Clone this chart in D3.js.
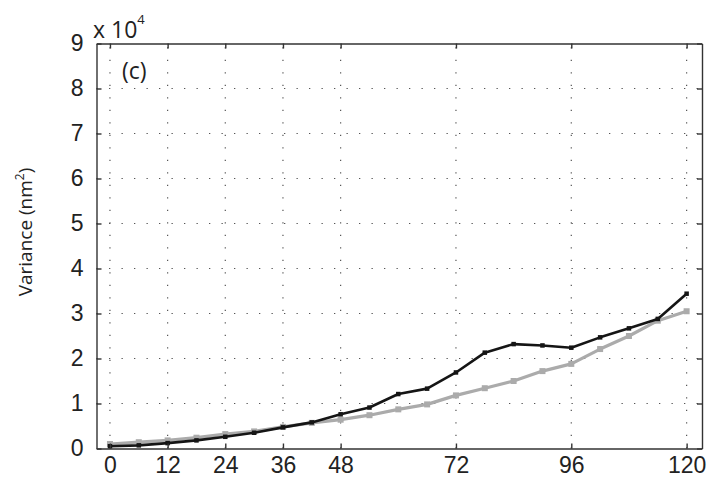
<!DOCTYPE html>
<html>
<head>
<meta charset="utf-8">
<script src="https://cdn.jsdelivr.net/npm/d3@7"></script>
<style>
    body { margin: 0; background: #fff; }
    svg { font-family: "Open Sans", "Noto Sans", sans-serif; }
    .grid line { stroke: #555; stroke-width: 1.2; stroke-dasharray: 1.3,11.2; }
    .axis path, .axis line { stroke: #333; stroke-width: 1.4; fill: none; }
    .axis text { fill: #222; font-size: 23px; }
</style>
</head>
<body>
<script>
    // forecast hours
    var hours = [0, 6, 12, 18, 24, 30, 36, 42, 48, 54, 60, 66, 72, 78, 84, 90, 96, 102, 108, 114, 120];
    // variance, units of 10^4 nm^2
    var blackSeries = [0.05, 0.07, 0.12, 0.18, 0.26, 0.35, 0.47, 0.58, 0.76, 0.91, 1.21, 1.33, 1.69, 2.13, 2.32, 2.29, 2.24, 2.47, 2.67, 2.88, 3.44];
    var graySeries  = [0.10, 0.14, 0.18, 0.24, 0.32, 0.38, 0.48, 0.57, 0.64, 0.74, 0.87, 0.98, 1.18, 1.34, 1.50, 1.72, 1.88, 2.21, 2.50, 2.84, 3.05];
    var xTicks = [0, 12, 24, 36, 48, 72, 96, 120];
    var yTicks = [0, 1, 2, 3, 4, 5, 6, 7, 8, 9];

    var W = 712, H = 482;
    var plotL = 96.5, plotR = 702, plotT = 43.5, plotB = 448.5;

    var svg = d3.select("body").append("svg")
        .attr("width", W)
        .attr("height", H);

    var x = d3.scaleLinear().domain([-2.8, 123.2]).range([plotL, plotR]);
    var y = d3.scaleLinear().domain([0, 9]).range([plotB, plotT]);

    // dotted grid
    var grid = svg.append("g").attr("class", "grid");
    grid.selectAll(".v").data(xTicks).enter().append("line")
        .attr("x1", function(d) { return x(d); })
        .attr("x2", function(d) { return x(d); })
        .attr("y1", plotB).attr("y2", plotT);
    grid.selectAll(".h").data(yTicks.slice(1, -1)).enter().append("line")
        .attr("x1", plotL).attr("x2", plotR)
        .attr("y1", function(d) { return y(d); })
        .attr("y2", function(d) { return y(d); });

    // lines
    var line = d3.line()
        .x(function(d) { return x(d[0]); })
        .y(function(d) { return y(d[1]); });

    function drawSeries(vals, color, lw, ms) {
        var pts = hours.map(function(h, i) { return [h, vals[i]]; });
        svg.append("path")
            .attr("d", line(pts))
            .attr("fill", "none")
            .attr("stroke", color)
            .attr("stroke-width", lw)
            .attr("stroke-linejoin", "round");
        svg.append("g").selectAll("rect").data(pts).enter().append("rect")
            .attr("x", function(d) { return x(d[0]) - ms / 2; })
            .attr("y", function(d) { return y(d[1]) - ms / 2; })
            .attr("width", ms).attr("height", ms)
            .attr("fill", color);
    }
    drawSeries(graySeries, "#ababab", 3.2, 6);
    drawSeries(blackSeries, "#151515", 2.6, 4.5);

    // axes, MATLAB style inward ticks all round
    var fmt = d3.format("d");
    svg.append("g").attr("class", "axis")
        .attr("transform", "translate(0," + plotB + ")")
        .call(d3.axisBottom(x).tickValues(xTicks).tickFormat(fmt).tickSizeInner(-5).tickSizeOuter(0).tickPadding(8));
    svg.append("g").attr("class", "axis")
        .attr("transform", "translate(0," + plotT + ")")
        .call(d3.axisTop(x).tickValues(xTicks).tickFormat("").tickSizeInner(-5).tickSizeOuter(0));
    svg.append("g").attr("class", "axis")
        .attr("transform", "translate(" + plotL + ",0)")
        .call(d3.axisLeft(y).tickValues(yTicks).tickFormat(fmt).tickSizeInner(-5).tickSizeOuter(0).tickPadding(13));
    svg.append("g").attr("class", "axis")
        .attr("transform", "translate(" + plotR + ",0)")
        .call(d3.axisRight(y).tickValues(yTicks).tickFormat("").tickSizeInner(-5).tickSizeOuter(0));

    // multiplier
    var mult = svg.append("text")
        .attr("x", 93).attr("y", 38)
        .attr("font-size", 23).attr("fill", "#222");
    mult.append("tspan").text("x 10");
    mult.append("tspan").attr("dy", -14).attr("font-size", 13).text("4");

    // panel label
    svg.append("text")
        .attr("x", 122).attr("y", 79)
        .attr("font-size", 23).attr("fill", "#222")
        .text("(c)");

    // y label
    var yl = svg.append("text")
        .attr("transform", "translate(32,232) rotate(-90)")
        .attr("text-anchor", "middle")
        .attr("font-size", 19).attr("fill", "#222");
    yl.append("tspan").text("Variance (nm");
    yl.append("tspan").attr("dy", -8).attr("font-size", 12).text("2");
    yl.append("tspan").attr("dy", 8).text(")");
</script>
</body>
</html>
